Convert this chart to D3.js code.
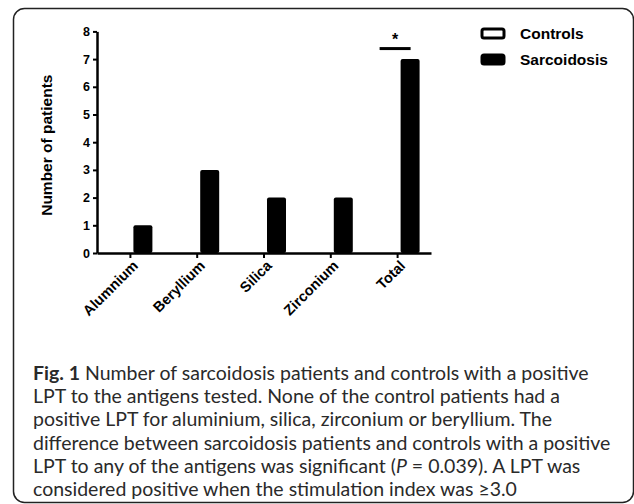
<!DOCTYPE html>
<html>
<head>
<meta charset="utf-8">
<script src="https://cdn.jsdelivr.net/npm/d3@7"></script>
<style>
  body { margin: 0; background: #fff; }
  svg { display: block; }
</style>
</head>
<body>
<div id="chart"></div>
<script>
const categories = ['Alumnium', 'Beryllium', 'Silica', 'Zirconium', 'Total'];
const controls = [0, 0, 0, 0, 0];
const sarcoidosis = [1, 3, 2, 2, 7];
const yTicks = [0, 1, 2, 3, 4, 5, 6, 7, 8];
const seriesNames = ['Controls', 'Sarcoidosis'];
const captionLines = [
  [['Fig. 1', 'bold'], [' Number of sarcoidosis patients and controls with a positive', 'normal']],
  [['LPT to the antigens tested. None of the control patients had a', 'normal']],
  [['positive LPT for aluminium, silica, zirconium or beryllium. The', 'normal']],
  [['difference between sarcoidosis patients and controls with a positive', 'normal']],
  [['LPT to any of the antigens was significant (', 'normal'], ['P', 'italic'], [' = 0.039). A LPT was', 'normal']],
  [['considered positive when the stimulation index was \u22653.0', 'normal']]
];

const width = 634, height = 504;
const plot = { left: 97, right: 431, top: 31.4, bottom: 253 };

const svg = d3.select('#chart')
  .append('svg')
  .attr('width', width)
  .attr('height', height);

// frame around figure + caption
svg.append('rect')
  .attr('x', 13.5).attr('y', 8.5)
  .attr('width', 620).attr('height', 494)
  .attr('rx', 11)
  .attr('fill', 'none')
  .attr('stroke', '#222')
  .attr('stroke-width', 1.5);

const x = d3.scaleBand()
  .domain(categories)
  .range([plot.left, plot.right]);

const y = d3.scaleLinear()
  .domain([0, 8])
  .range([plot.bottom, plot.top]);

const barW = 19;
const gap = 3;

const g = svg.append('g');

// controls bars (left of tick), sarcoidosis bars (right of tick)
g.selectAll('.bar-ctrl')
  .data(categories)
  .join('rect')
  .attr('class', 'bar-ctrl')
  .attr('x', (d) => x(d) + x.bandwidth() / 2 - gap - barW)
  .attr('y', (d, i) => y(controls[i]))
  .attr('width', barW)
  .attr('height', (d, i) => y(0) - y(controls[i]))
  .attr('fill', '#fff')
  .attr('stroke', 'none');

g.selectAll('.bar-sarc')
  .data(categories)
  .join('rect')
  .attr('class', 'bar-sarc')
  .attr('x', (d) => x(d) + x.bandwidth() / 2 + gap)
  .attr('y', (d, i) => y(sarcoidosis[i]))
  .attr('width', barW)
  .attr('height', (d, i) => y(0) - y(sarcoidosis[i]))
  .attr('rx', 2)
  .attr('fill', '#000');

// y axis
const yAxis = g.append('g')
  .attr('transform', `translate(${plot.left},0)`)
  .call(d3.axisLeft(y).tickValues(yTicks).tickSize(4).tickSizeOuter(0).tickPadding(3));
yAxis.select('.domain').attr('stroke', '#000').attr('stroke-width', 2.5);
yAxis.selectAll('.tick line').attr('stroke', '#000').attr('stroke-width', 2);
yAxis.selectAll('.tick text')
  .attr('font-family', 'Liberation Sans, Arial, sans-serif')
  .attr('font-weight', 'bold')
  .attr('font-size', '12.5px')
  .attr('fill', '#000');

// x axis
const xAxis = g.append('g')
  .attr('transform', `translate(0,${plot.bottom})`)
  .call(d3.axisBottom(x).tickSize(5).tickSizeOuter(0).tickPadding(4));
xAxis.select('.domain').attr('stroke', '#000').attr('stroke-width', 2.5);
xAxis.selectAll('.tick line').attr('stroke', '#000').attr('stroke-width', 2);
xAxis.selectAll('.tick text')
  .attr('font-family', 'Liberation Sans, Arial, sans-serif')
  .attr('font-weight', 'bold')
  .attr('font-size', '14.5px')
  .attr('fill', '#000')
  .attr('text-anchor', 'end')
  .attr('dy', '0.35em')
  .attr('transform', 'translate(5,10) rotate(-45)')
  .attr('y', 0);

// y axis title
svg.append('text')
  .attr('transform', `translate(52,${(plot.top + plot.bottom) / 2 + 3}) rotate(-90)`)
  .attr('text-anchor', 'middle')
  .attr('font-family', 'Liberation Sans, Arial, sans-serif')
  .attr('font-weight', 'bold')
  .attr('font-size', '15.5px')
  .text('Number of patients');

// significance marker on Total
const tx = x('Total') + x.bandwidth() / 2;
svg.append('line')
  .attr('x1', tx - 18).attr('x2', tx + 13)
  .attr('y1', y(7.38)).attr('y2', y(7.38))
  .attr('stroke', '#000')
  .attr('stroke-width', 3);
svg.append('text')
  .attr('x', tx - 2.5)
  .attr('y', y(7.38) - 4)
  .attr('text-anchor', 'middle')
  .attr('font-family', 'Liberation Sans, Arial, sans-serif')
  .attr('font-weight', 'bold')
  .attr('font-size', '16px')
  .text('*');

// legend
const legend = svg.append('g').attr('transform', 'translate(482,29)');
seriesNames.forEach((name, i) => {
  const row = legend.append('g').attr('transform', `translate(0,${i * 26})`);
  row.append('rect')
    .attr('x', 0).attr('y', 0)
    .attr('width', 22).attr('height', 9)
    .attr('rx', 2)
    .attr('fill', i === 0 ? '#fff' : '#000')
    .attr('stroke', '#000')
    .attr('stroke-width', 3);
  row.append('text')
    .attr('x', 38).attr('y', 4.5)
    .attr('dy', '0.35em')
    .attr('font-family', 'Liberation Sans, Arial, sans-serif')
    .attr('font-weight', 'bold')
    .attr('font-size', '15.5px')
    .text(name);
});

// caption
const caption = svg.append('text')
  .attr('font-family', 'Lato, Open Sans, sans-serif')
  .attr('font-size', '19.5px')
  .attr('fill', '#2a2a2a');
captionLines.forEach((parts, i) => {
  const line = caption.append('tspan')
    .attr('x', 33)
    .attr('y', 380 + i * 23.2);
  parts.forEach(([txt, style]) => {
    const t = line.append('tspan').text(txt);
    if (style === 'bold') t.attr('font-weight', 'bold');
    if (style === 'italic') t.attr('font-style', 'italic');
  });
});
</script>
</body>
</html>
